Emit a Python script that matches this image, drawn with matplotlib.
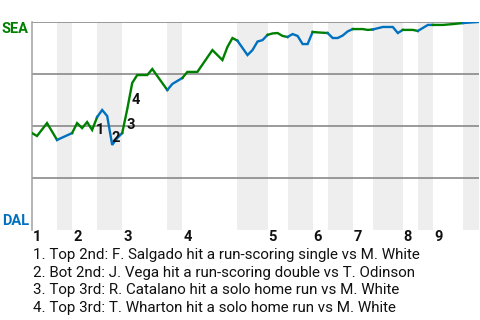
import matplotlib
matplotlib.use("Agg")
import matplotlib.pyplot as plt
import matplotlib.transforms as mtransforms

plt.rcParams['font.family'] = ['Roboto', 'DejaVu Sans']

# plate appearance index vs SEA win probability (%)
pa = [0, 1, 3, 5, 8, 9, 10, 11, 12, 13, 14, 15, 16, 17, 18, 19, 20, 21, 23, 24,
      27, 28, 30, 31, 33, 36, 38, 39, 40, 41, 43, 44, 45, 46, 47, 48, 49, 50, 51, 52,
      53, 54, 55, 56, 57, 59, 60, 61, 62, 63, 64, 66, 67, 68, 70, 72, 73, 74, 76, 77,
      79, 80, 82, 84, 86, 89]
sea_wp = [46.6, 45.2, 51.4, 43.3, 46.6, 51.4, 49.0, 51.9, 48.1, 54.3, 57.7, 54.8, 40.9, 44.2, 46.6, 58.0, 70.7, 74.5, 74.5, 77.4,
          67.3, 70.2, 73.1, 76.0, 76.0, 86.5, 81.7, 88.0, 92.3, 91.0, 84.1, 86.5, 90.6, 91.3, 93.8, 94.5, 94.7, 93.3, 92.8, 94.2,
          93.3, 89.4, 89.4, 95.2, 95.0, 94.7, 92.3, 92.3, 93.5, 95.5, 96.6, 96.6, 96.2, 96.4, 97.6, 97.6, 94.7, 96.2, 96.2, 95.7,
          98.6, 98.6, 98.6, 99.0, 99.5, 100.0]

inning_start = [0, 8, 18, 30, 47, 56, 64, 74, 80]
bottom_start = [5, 13, 27, 41, 51, 59, 68, 77, 86]
innings = ['1', '2', '3', '4', '5', '6', '7', '8', '9']

notes = [
    "1. Top 2nd: F. Salgado hit a run-scoring single vs M. White",
    "2. Bot 2nd: J. Vega hit a run-scoring double vs T. Odinson",
    "3. Top 3rd: R. Catalano hit a solo home run vs M. White",
    "4. Top 3rd: T. Wharton hit a solo home run vs M. White",
]

green = '#008000'
blue = '#0070c0'

fig = plt.figure(figsize=(4.8, 3.2), dpi=100)
ax = fig.add_axes([32/480, 90/320, 447/480, 208/320])
ax.set_xlim(0, 89.2)
ax.set_ylim(0, 100)

# shade bottom halves
ends = inning_start[1:] + [89.2]
for b, e in zip(bottom_start, ends):
    ax.axvspan(b, e, color='#eeeeee', lw=0, zorder=0)

for g in [25, 50, 75, 100]:
    ax.axhline(g, color='#808080', lw=1.1, zorder=1)


def half_color(x):
    for b, e in zip(bottom_start, ends):
        if b <= x < e:
            return blue
    return green


# group consecutive segments with same colour
seg_colors = [half_color((pa[i] + pa[i+1]) / 2) for i in range(len(pa) - 1)]
i = 0
while i < len(seg_colors):
    j = i
    while j + 1 < len(seg_colors) and seg_colors[j+1] == seg_colors[i]:
        j += 1
    ax.plot(pa[i:j+2], sea_wp[i:j+2], color=seg_colors[i], lw=1.7, zorder=3,
            solid_joinstyle='miter')
    i = j + 1

for s in ['top', 'right', 'bottom']:
    ax.spines[s].set_visible(False)
ax.spines['left'].set_color('#a0a0a0')
ax.spines['left'].set_linewidth(1.1)
ax.set_xticks([])
ax.set_yticks([])

# inning labels
trans = mtransforms.blended_transform_factory(ax.transData, ax.transAxes)
for x, lab in zip(inning_start, innings):
    ax.text(x + 0.2, -0.036, lab, transform=trans, ha='left', va='center',
            fontsize=10.5, fontweight='bold', color='#111111')

# event markers
for lab, x, y in [('1', 13.65, 48.1), ('2', 16.7, 44.2), ('3', 19.7, 50.5), ('4', 20.7, 62.5)]:
    ax.text(x, y, lab, ha='center', va='center', fontsize=10.5, fontweight='bold',
            color='#111111', zorder=4)

fig.text(29/480, 1 - 29/320, 'SEA', ha='right', va='center', color=green,
         fontsize=10.5, fontweight='bold')
fig.text(29/480, 1 - 221/320, 'DAL', ha='right', va='center', color=blue,
         fontsize=10.5, fontweight='bold')

for k, t in enumerate(notes):
    fig.text(33/480, 1 - (255 + k*17.7)/320, t, ha='left', va='center',
             fontsize=10.9, color='#111111')

fig.savefig('out.png', dpi=100)
